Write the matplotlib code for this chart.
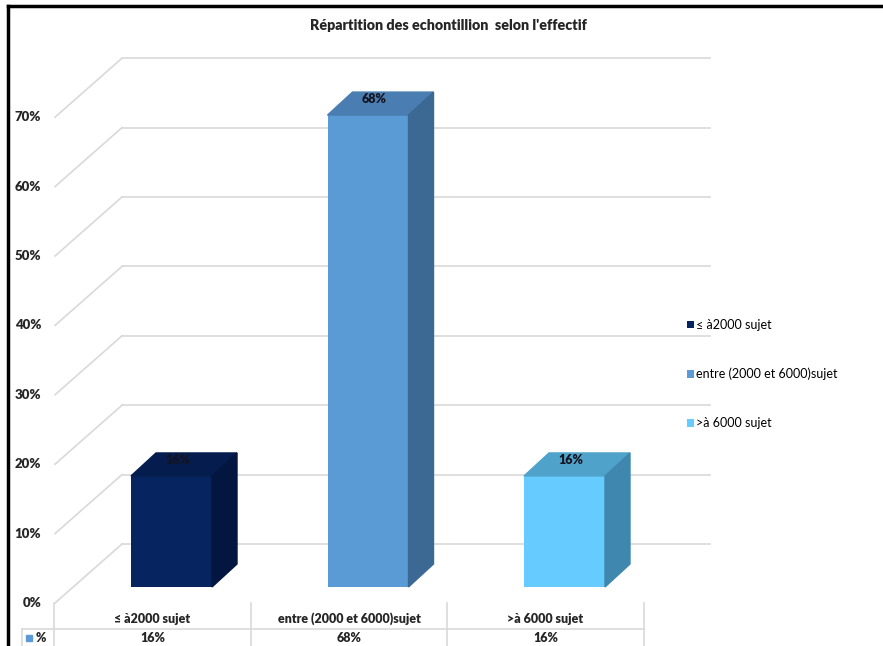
import matplotlib
matplotlib.use("Agg")
import matplotlib.pyplot as plt
from matplotlib.patches import Polygon, Patch, Rectangle
from matplotlib.lines import Line2D

plt.rcParams['font.family'] = ['Lato', 'DejaVu Sans']

# données
categories = ["≤ à2000 sujet", "entre (2000 et 6000)sujet", ">à 6000 sujet"]
valeurs = [16, 68, 16]
etiquettes = ["16%", "68%", "16%"]
graduations = [0, 10, 20, 30, 40, 50, 60, 70]
titre = "Répartition des echontillion  selon l'effectif"

# couleurs : face avant, dessus, côté
c_face = ["#06245F", "#5B9BD5", "#66CCFF"]
c_top = ["#051D4E", "#4A7DB2", "#4FA3CB"]
c_side = ["#031640", "#3C6894", "#3F87AE"]
grille = "#D9D9D9"
texte = "#262626"

W, H = 883, 646
fig = plt.figure(figsize=(W / 100, H / 100), dpi=100)

# repère : x = indice de catégorie, y = pourcentage (face avant des barres)
px0, pxs = 171.5, 196.5   # centre barre 0 en px, pas entre catégories
py0, pys = 587.0, 6.94    # base face avant en px, px par %
xlim = (-0.6, 2.8)
ylim = (-9, 82)
left = px0 + xlim[0] * pxs
right = px0 + xlim[1] * pxs
bottom = py0 - ylim[0] * pys
top = py0 - ylim[1] * pys
ax = fig.add_axes([left / W, 1 - bottom / H, (right - left) / W, (bottom - top) / H])
ax.set_xlim(*xlim)
ax.set_ylim(*ylim)
ax.axis("off")

# profondeur du mur / des barres en unités de données
mur_dx, mur_dy = 67 / pxs, 59 / pys
avant_dy = -16 / pys          # bord avant du sol par rapport à la base des barres
avant_x = (55 - px0) / pxs
fond_x2 = (710 - px0) / pxs
bar_w = 81 / pxs
bar_dx, bar_dy = 25 / pxs, 23 / pys

# grille (mur du fond + mur gauche)
for v in graduations:
    yf = v + avant_dy
    yb = yf + mur_dy
    ax.plot([avant_x, avant_x + mur_dx], [yf, yb], color=grille, lw=1.2, zorder=1)
    ax.plot([avant_x + mur_dx, fond_x2], [yb, yb], color=grille, lw=1.2, zorder=1)
    ax.text(avant_x - 0.07, yf, f"{v}%", ha="right", va="center",
            fontsize=9.5, fontweight="heavy", color=texte)

# barres 3D
xs = list(range(len(valeurs)))
ax.bar(xs, valeurs, width=bar_w, color=c_face, zorder=3)
for i, v in zip(xs, valeurs):
    x1, x2 = i - bar_w / 2, i + bar_w / 2
    dessus = [(x1, v), (x2, v), (x2 + bar_dx, v + bar_dy), (x1 + bar_dx, v + bar_dy)]
    cote = [(x2, 0), (x2, v), (x2 + bar_dx, v + bar_dy), (x2 + bar_dx, bar_dy)]
    ax.add_patch(Polygon(dessus, closed=True, color=c_top[i], zorder=3))
    ax.add_patch(Polygon(cote, closed=True, color=c_side[i], zorder=3))
    ax.text(i + 0.03, v + 2.3, etiquettes[i], ha="center", va="center",
            fontsize=9, fontweight="heavy", color="#141420", zorder=4)

# tableau de données
decal = -19 / pxs
y_haut = avant_dy
y_ligne = (py0 - 629) / pys
y_bas = (py0 - 646) / pys
for i in range(len(categories) + 1):
    xb = i - 0.5 + decal
    ax.plot([xb, xb], [y_haut, y_bas], color=grille, lw=1.2, clip_on=False)
x_gauche = (22 - px0) / pxs
ax.plot([x_gauche, len(categories) - 0.5 + decal], [y_ligne, y_ligne], color=grille, lw=1.2, clip_on=False)
ax.plot([x_gauche, x_gauche], [y_ligne, y_bas], color=grille, lw=1.2, clip_on=False)
for i, (cat, lab) in enumerate(zip(categories, etiquettes)):
    ax.text(i + decal, (py0 - 619) / pys, cat, ha="center", va="center",
            fontsize=9, fontweight="heavy", color=texte, clip_on=False)
    ax.text(i + decal, (py0 - 638) / pys, lab, ha="center", va="center",
            fontsize=9, fontweight="heavy", color=texte, clip_on=False)
ax.add_patch(Rectangle(((26 - px0) / pxs, (py0 - 641) / pys), 6 / pxs, 6 / pys,
                       color="#5B9BD5", clip_on=False))
ax.text((36 - px0) / pxs, (py0 - 638) / pys, "%", ha="left", va="center",
        fontsize=9, fontweight="heavy", color=texte)

# légende
poignees = [Patch(facecolor=c) for c in c_face]
fig.legend(poignees, categories, loc="upper left", bbox_to_anchor=(687 / W, 1 - 319 / H),
           frameon=False, fontsize=9, handlelength=0.55, handleheight=0.55,
           handletextpad=0.2, labelspacing=2.95, borderaxespad=0, borderpad=0)

# titre
fig.text(448 / W, 1 - 25 / H, titre, ha="center", va="center",
         fontsize=10.3, fontweight="heavy", color=texte)

# cadre
fig.add_artist(Line2D([8 / W, 8 / W], [0, 1 - 6 / H], color="black", lw=2.5))
fig.add_artist(Line2D([8 / W, 1], [1 - 6 / H, 1 - 6 / H], color="black", lw=2.5))

fig.savefig("out.png", dpi=100)
